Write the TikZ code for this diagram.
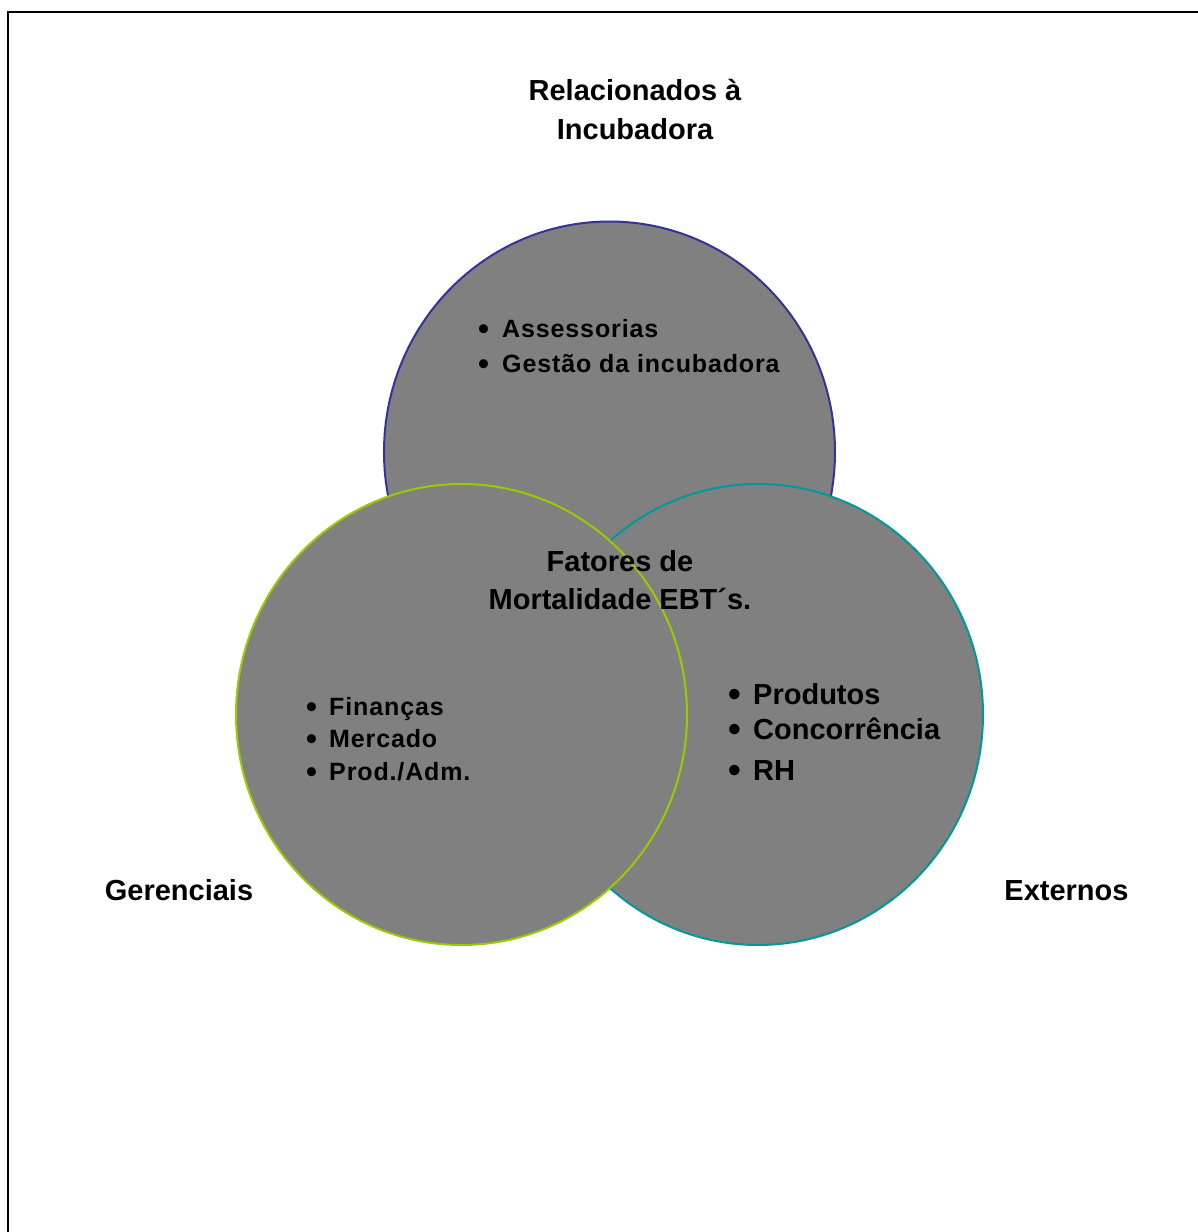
\documentclass[tikz,border=0pt]{standalone}
\usepackage{fontspec}
\setmainfont{Liberation Sans}
\newfontfamily\listfont[LetterSpace=3.5]{Liberation Sans}
\definecolor{ringblue}{HTML}{333399}
\definecolor{ringteal}{HTML}{009999}
\definecolor{ringgreen}{HTML}{99CC00}
\definecolor{discfill}{HTML}{808080}
% a slightly enlarged bullet, centred in a box of the given width
\newcommand{\bulletbox}[1]{\makebox[#1][l]{\raisebox{-0.08em}{\scalebox{1.25}{•}}}}
\begin{document}
\begin{tikzpicture}[x=1pt,y=-1pt,
  disc/.style={fill=discfill,line width=2pt},
  heading/.style={inner sep=0pt,anchor=base,font=\fontsize{29}{35}\selectfont\bfseries},
  smallitem/.style={inner sep=0pt,anchor=base west,font=\fontsize{25}{30}\selectfont\bfseries\listfont},
  bigitem/.style={inner sep=0pt,anchor=base west,font=\fontsize{29}{35}\selectfont\bfseries}]
  \useasboundingbox (0,0) rectangle (1198,1232);
  % frame (open at right and bottom)
  \coordinate (fbl) at (8,1232);
  \coordinate (ftl) at (8,12);
  \coordinate (ftr) at (1198,12);
  \draw[line width=2.4pt] (fbl) -- (ftl) -- (ftr);
  % three overlapping discs
  \draw[disc,draw=ringblue] (609.5,452) ellipse [x radius=225.5,y radius=230.5];
  \draw[disc,draw=ringteal] (758,714.5) ellipse [x radius=225,y radius=230.5];
  \draw[disc,draw=ringgreen] (461.5,714.5) ellipse [x radius=225.5,y radius=230.5];
  % group titles
  \node[heading] (rel1) at (635,100) {Relacionados à};
  \node[heading] (rel2) at (635,139.5) {Incubadora};
  \node[heading] (ger) at (179,900) {Gerenciais};
  \node[heading] (ext) at (1066.5,900) {Externos};
  \node[heading] (fat1) at (620,571) {Fatores de};
  \node[heading] (fat2) at (620,609) {Mortalidade EBT´s.};
  % incubator items
  \node[smallitem] (ass) at (478,337) {\bulletbox{24pt}Assessorias};
  \node[smallitem] (ges) at (478,372) {\bulletbox{24pt}Gestão da incubadora};
  % management items
  \node[smallitem] (fin) at (306,715) {\bulletbox{23pt}Finanças};
  \node[smallitem] (mer) at (306,747) {\bulletbox{23pt}Mercado};
  \node[smallitem] (pro) at (306,780) {\bulletbox{23pt}Prod./Adm.};
  % external items
  \node[bigitem] (prd) at (728,704) {\bulletbox{25pt}Produtos};
  \node[bigitem] (con) at (728,739) {\bulletbox{25pt}Concorrência};
  \node[bigitem] (rh) at (728,780) {\bulletbox{25pt}RH};
\end{tikzpicture}
\end{document}
